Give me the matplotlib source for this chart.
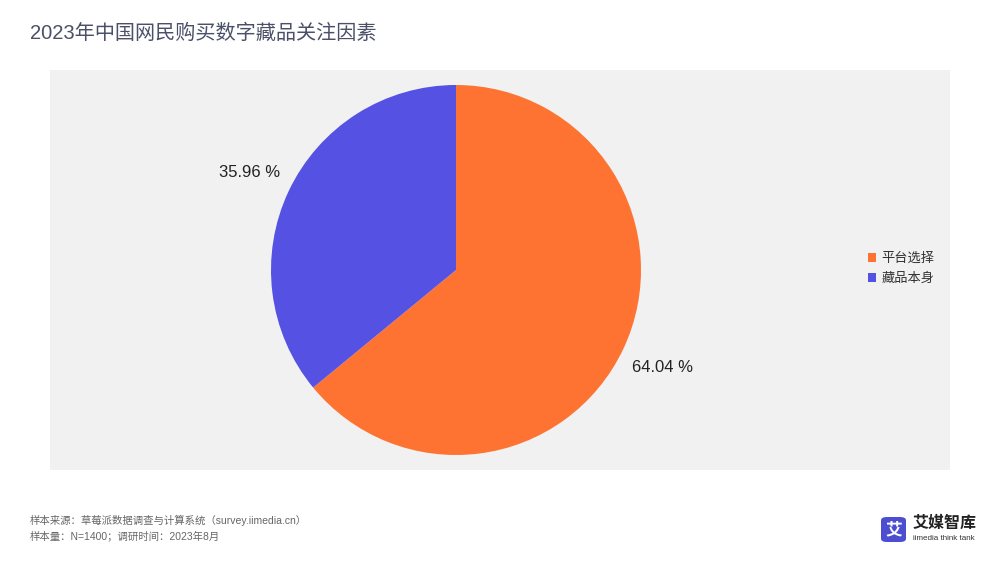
import matplotlib.pyplot as plt
from matplotlib.patches import FancyBboxPatch

plt.rcParams['font.family'] = ['Liberation Sans', 'Noto Sans CJK SC', 'DejaVu Sans']

title = '2023年中国网民购买数字藏品关注因素'
labels = ['平台选择', '藏品本身']
values = [64.04, 35.96]
colors = ['#ff7332', '#5451e3']
source_lines = ['样本来源：草莓派数据调查与计算系统（survey.iimedia.cn）',
                '样本量：N=1400；调研时间：2023年8月']

W, H = 1000, 563
fig = plt.figure(figsize=(W / 100, H / 100), dpi=100)
fig.patch.set_facecolor('white')

# grey panel behind the chart
bg = fig.add_axes([50 / W, 1 - 470 / H, 900 / W, 400 / H], zorder=0)
bg.set_facecolor('#f1f1f1')
bg.set_xticks([])
bg.set_yticks([])
for s in bg.spines.values():
    s.set_visible(False)

# pie axes: centre (456, 270) px, radius 185 px
cx, cy, r = 456, 270, 185
half = r * 1.3
ax = fig.add_axes([(cx - half) / W, (H - cy - half) / H, 2 * half / W, 2 * half / H],
                  zorder=1)

wedges, texts = ax.pie(values, colors=colors, startangle=90, counterclock=False,
                       radius=1, labels=['%.2f %%' % v for v in values],
                       labeldistance=1.235,
                       wedgeprops=dict(linewidth=0),
                       textprops=dict(fontsize=12, color='#222222'))
for t in texts:
    t.set_ha('center')
ax.set_xlim(-1.3, 1.3)
ax.set_ylim(-1.3, 1.3)
ax.set_aspect('equal')
ax.axis('off')

leg = fig.legend(wedges, labels, loc='center left',
                 bbox_to_anchor=(856 / W, 1 - 269 / H), frameon=False,
                 fontsize=9.5, handlelength=0.6, handleheight=0.6,
                 handletextpad=0.45, labelspacing=0.6)
for txt in leg.get_texts():
    txt.set_color('#333333')

fig.text(30 / W, 1 - 33 / H, title, fontsize=14.5, color='#4a5068',
         va='center', ha='left')

for i, line in enumerate(source_lines):
    fig.text(30 / W, 1 - (520 + i * 16) / H, line, fontsize=7.5,
             color='#666666', va='center', ha='left')

# logo
fig.patches.append(FancyBboxPatch((881 / W, 1 - 542 / H), 25 / W, 25 / H,
                                  boxstyle='round,pad=0,rounding_size=0.006',
                                  transform=fig.transFigure,
                                  facecolor='#4b4fcf', edgecolor='none'))
fig.text(893.5 / W, 1 - 529.5 / H, '艾', fontsize=12, color='white',
         fontweight='bold', ha='center', va='center')
fig.text(913 / W, 1 - 523 / H, '艾媒智库', fontsize=11.5, color='#222222',
         fontweight='bold', ha='left', va='center')
fig.text(913 / W, 1 - 538 / H, 'iimedia think tank', fontsize=5.8,
         color='#333333', ha='left', va='center')

fig.savefig('out.png', dpi=100)
